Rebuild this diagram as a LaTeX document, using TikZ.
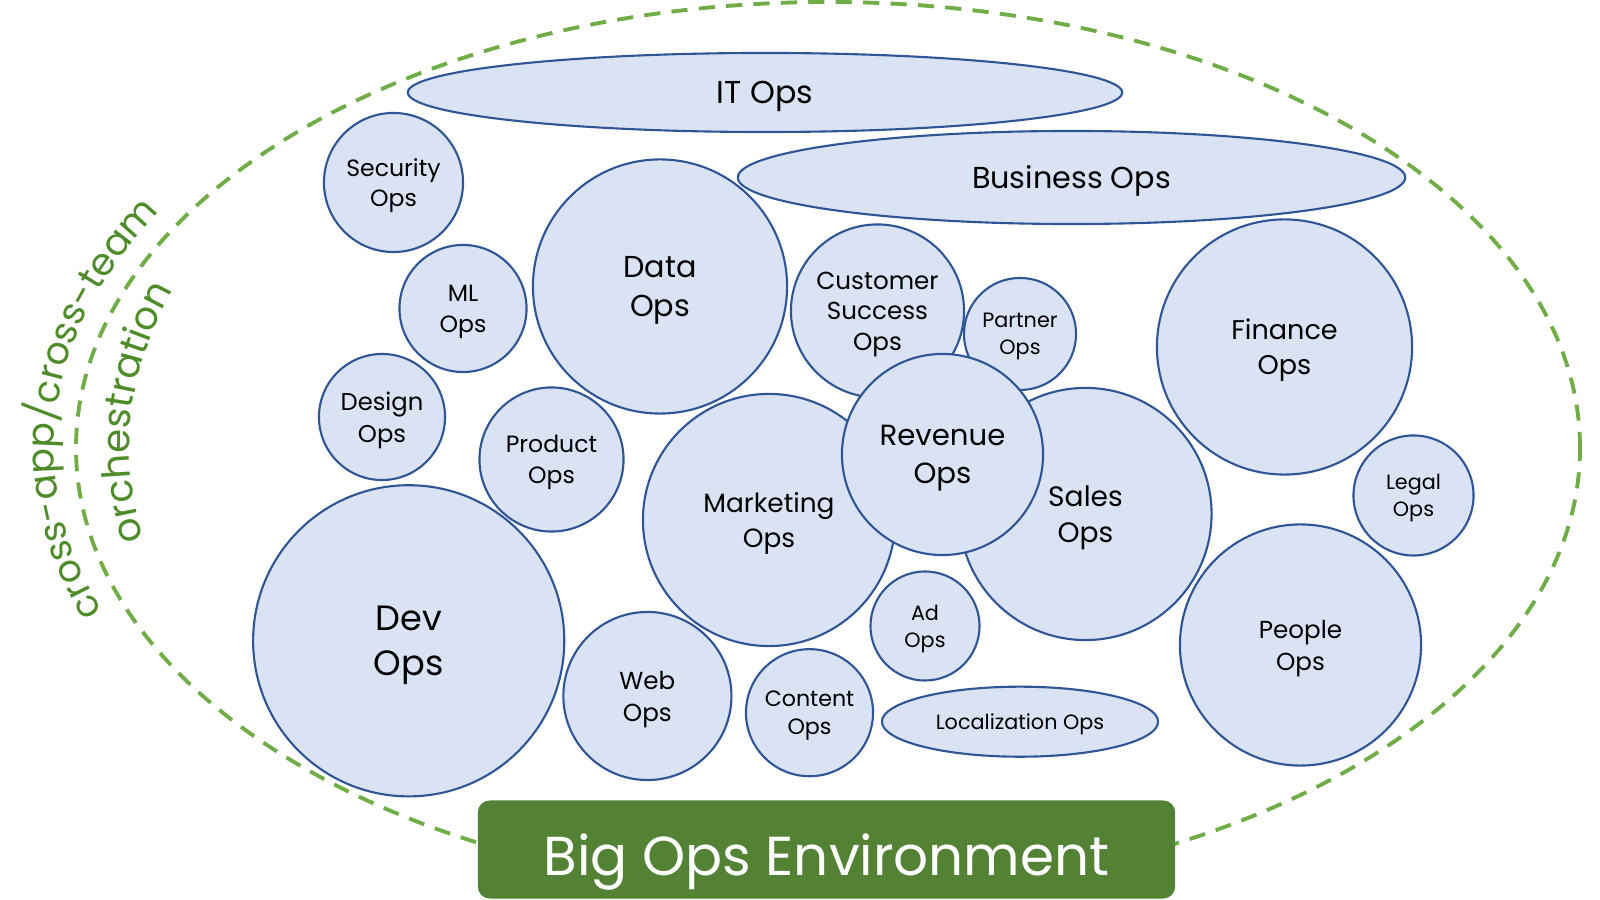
\documentclass[tikz,border=0pt]{standalone}
\usepackage{fontspec}
\setmainfont{Poppins}
\usetikzlibrary{shapes.geometric,decorations.text}
\definecolor{opsfill}{HTML}{DAE3F3}
\definecolor{opsline}{HTML}{2F5597}
\definecolor{envgreen}{HTML}{548235}
\definecolor{dashgreen}{HTML}{70AD47}
\definecolor{textgreen}{RGB}{78,140,42}
\begin{document}
\begin{tikzpicture}[x=0.01cm,y=0.01cm,
  bubble/.style={circle,draw=opsline,fill=opsfill,line width=0.6pt,inner sep=0pt,align=center,minimum size=#1,text depth=0pt},
  blob/.style 2 args={ellipse,draw=opsline,fill=opsfill,line width=0.6pt,inner sep=0pt,align=center,minimum width=#1,minimum height=#2,text depth=0pt}]
\useasboundingbox (0,0) rectangle (1600,900);
\draw[dashgreen,line width=1.1pt,dash pattern=on 4.6pt off 3.2pt] (828,452) ellipse [x radius=752,y radius=446];
\path[decorate,decoration={text along path,text align=center,
  text={|\fontsize{10.7}{10.7}\selectfont\color{textgreen}|cross-app/cross-team}}]
  ([shift={(828,452)}]211.5:774 and 468) arc[start angle=211.5,end angle=139.5,x radius=774,y radius=468];
\path[decorate,decoration={text along path,text align=center,
  text={|\fontsize{11}{11}\selectfont\color{textgreen}|orchestration}}]
  (147,352) .. controls (120,430) and (120,520) .. (178,618);
\node[blob={7.14cm}{0.79cm},font={\fontsize{9}{11.7}\selectfont}] (itops) at (765,807.5) {IT Ops};
\node[blob={6.67cm}{0.93cm},font={\fontsize{8.6}{11.2}\selectfont}] (bizops) at (1071.5,722.5) {Business Ops};
\node[bubble=1.39cm,font={\fontsize{6.7}{8.7}\selectfont}] (secops) at (393.5,717.5) {Security\\Ops};
\node[bubble=1.27cm,font={\fontsize{6.7}{8.7}\selectfont}] (mlops) at (463,591.5) {ML\\Ops};
\node[bubble=2.54cm,font={\fontsize{8.6}{11.2}\selectfont}] (dataops) at (660,613.5) {Data\\Ops};
\node[bubble=1.26cm,font={\fontsize{6.9}{9}\selectfont}] (designops) at (382,483) {Design\\Ops};
\node[bubble=1.44cm,font={\fontsize{6.7}{8.7}\selectfont}] (prodops) at (551.5,440.5) {Product\\Ops};
\node[bubble=3.11cm,font={\fontsize{10}{12.6}\selectfont}] (devops) at (408.7,259.2) {Dev\\Ops};
\node[bubble=1.68cm,font={\fontsize{7}{9.1}\selectfont}] (webops) at (647.4,204) {Web\\Ops};
\node[bubble=2.52cm,font={\fontsize{7.5}{9.7}\selectfont}] (mktops) at (769,380) {Marketing\\Ops};
\node[bubble=1.73cm,font={\fontsize{7}{8.7}\selectfont}] (csops) at (877.5,589) {Customer\\Success\\Ops};
\node[bubble=1.12cm,font={\fontsize{5.9}{7.6}\selectfont}] (partops) at (1020,566) {Partner\\Ops};
\node[bubble=2.52cm,font={\fontsize{8}{10.4}\selectfont}] (salesops) at (1085.5,386) {Sales\\Ops};
\node[bubble=2.55cm,font={\fontsize{7.7}{10}\selectfont}] (finops) at (1284.5,553) {Finance\\Ops};
\node[bubble=1.2cm,font={\fontsize{5.9}{7.6}\selectfont}] (legalops) at (1413.5,404.5) {Legal\\Ops};
\node[bubble=2.41cm,font={\fontsize{7}{9.1}\selectfont}] (peopleops) at (1300.5,255) {People\\Ops};
\node[bubble=1.09cm,font={\fontsize{5.9}{7.6}\selectfont}] (adops) at (925,274) {Ad\\Ops};
\node[bubble=1.27cm,font={\fontsize{6.3}{8.2}\selectfont}] (contentops) at (809.5,187.3) {Content\\Ops};
\node[blob={2.76cm}{0.7cm},font={\fontsize{5.9}{7.6}\selectfont}] (locops) at (1020,178.3) {Localization Ops};
\node[bubble=2.01cm,font={\fontsize{8.3}{10.8}\selectfont}] (revops) at (942.5,445.5) {Revenue\\Ops};
\node[fill=envgreen,rounded corners=0.12cm,minimum width=6.97cm,minimum height=0.98cm,
  text height=0.51cm,text depth=0pt,text=white,font={\fontsize{15.6}{15.6}\selectfont}] (bigops) at (826.5,50.5) {Big Ops Environment};
\end{tikzpicture}
\end{document}
